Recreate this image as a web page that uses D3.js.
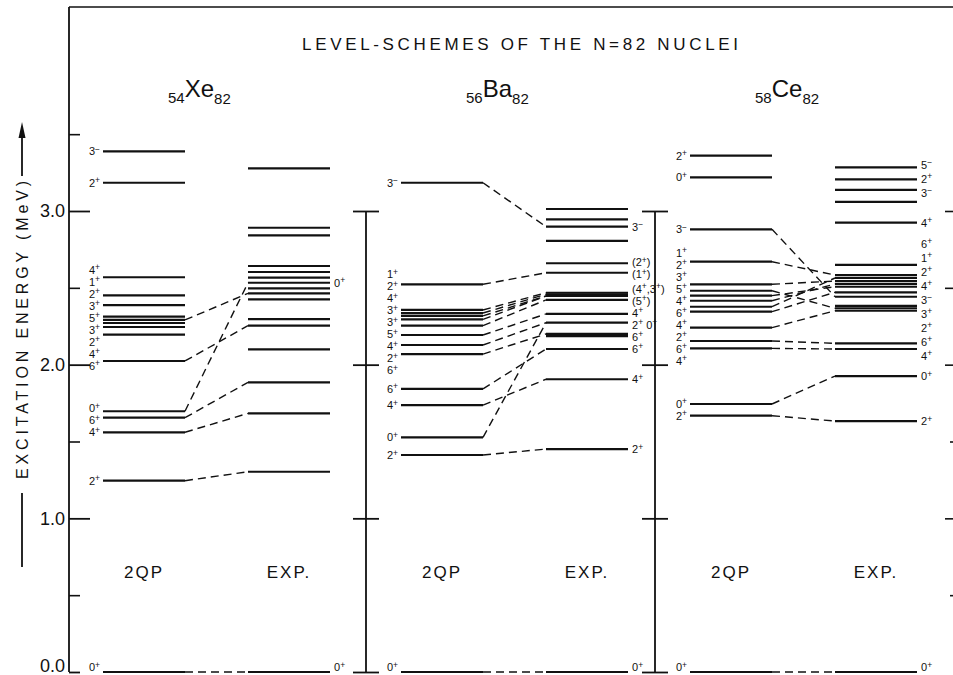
<!DOCTYPE html>
<html>
<head>
<meta charset="utf-8">
<script src="https://cdn.jsdelivr.net/npm/d3@7"></script>
<style>
  body { margin: 0; background: #fff; }
  svg { display: block; font-family: "Liberation Sans", "DejaVu Sans", sans-serif; }
</style>
</head>
<body>
<svg id="chart" width="953" height="675"></svg>
<script>
// nuclei shown, N = 82 isotones
const nuclei = ["Xe", "Ba", "Ce"];
const protons = [54, 56, 58];
const neutronNumber = 82;

// energy axis (MeV)
const majorTicks = [0, 1, 2, 3];
const minorTicks = [0.5, 1.5, 2.5, 3.5];

// 54Xe82 : two-quasiparticle calculation and experiment (MeV, label)
const xeQpE = [0, 1.245, 1.560, 1.655, 1.697, 2.024, 2.195, 2.245, 2.271, 2.291, 2.312, 2.388, 2.451, 2.569, 3.184, 3.388];
const xeQpJ = ["0+", "2+", "4+", "6+", "0+", "6+", "4+", "2+", "3+", "5+", "3+", "2+", "1+", "4+", "2+", "3-"];
const xeExpE = [0, 1.303, 1.683, 1.885, 2.100, 2.254, 2.297, 2.425, 2.464, 2.497, 2.533, 2.566, 2.603, 2.642, 2.842, 2.891, 3.278];
const xeExpJ = ["0+", "", "", "", "", "", "", "", "", "", "0+", "", "", "", "", "", ""];
const xeLinks = [[0, 0], [1.245, 1.303], [1.560, 1.683], [1.655, 1.885], [1.697, 2.533], [2.024, 2.254], [2.291, 2.464]];

// 56Ba82
const baQpE = [0, 1.412, 1.527, 1.737, 1.842, 2.069, 2.128, 2.193, 2.254, 2.295, 2.317, 2.336, 2.356, 2.523, 3.184];
const baQpJ = ["0+", "2+", "0+", "4+", "6+", "6+", "2+", "4+", "5+", "3+", "3+", "4+", "2+", "1+", "3-"];
const baExpE = [0, 1.451, 1.905, 2.102, 2.186, 2.200, 2.273, 2.330, 2.421, 2.447, 2.458, 2.468, 2.598, 2.660, 2.805, 2.898, 2.946, 3.013];
const baExpJ = ["0+", "2+", "4+", "6+", "", "6+", "2+ 0+", "4+", "(5+)", "", "", "(4+,3+)", "(1+)", "(2+)", "", "3-", "", ""];
const baLinks = [[0, 0], [1.412, 1.451], [1.527, 2.273], [1.737, 1.905], [1.842, 2.102], [2.069, 2.200], [2.128, 2.273],
  [2.193, 2.330], [2.254, 2.421], [2.295, 2.447], [2.317, 2.447], [2.336, 2.458], [2.356, 2.468], [2.523, 2.598], [3.184, 2.898]];

// 58Ce82
const ceQpE = [0, 1.668, 1.744, 2.106, 2.154, 2.241, 2.345, 2.377, 2.416, 2.449, 2.481, 2.523, 2.670, 2.881, 3.219, 3.360];
const ceQpJ = ["0+", "2+", "0+", "4+", "6+", "2+", "4+", "6+", "4+", "5+", "3+", "2+", "1+", "3-", "0+", "2+"];
const ceExpE = [0, 1.633, 1.926, 2.102, 2.139, 2.351, 2.367, 2.382, 2.442, 2.471, 2.507, 2.525, 2.544, 2.564, 2.583, 2.649, 2.924, 3.060, 3.137, 3.206, 3.284];
const ceExpJ = ["0+", "2+", "0+", "4+", "6+", "2+", "", "", "3+", "3-", "4+", "", "2+", "", "1+", "6+", "4+", "", "3-", "2+", "5-"];
const ceLinks = [[0, 0], [1.668, 1.633], [1.744, 1.926], [2.106, 2.102], [2.154, 2.139], [2.241, 2.351], [2.345, 2.471],
  [2.377, 2.564], [2.416, 2.525], [2.449, 2.507], [2.481, 2.367], [2.523, 2.544], [2.670, 2.583], [2.881, 2.442]];

const zip = (es, js) => es.map((e, i) => ({ e: e, j: js[i] }));
const panels = [
  { name: "Xe", z: protons[0], qp: zip(xeQpE, xeQpJ), exp: zip(xeExpE, xeExpJ), links: xeLinks },
  { name: "Ba", z: protons[1], qp: zip(baQpE, baQpJ), exp: zip(baExpE, baExpJ), links: baLinks },
  { name: "Ce", z: protons[2], qp: zip(ceQpE, ceQpJ), exp: zip(ceExpE, ceExpJ), links: ceLinks }
];

const ink = "#111";
const svg = d3.select("#chart");
svg.append("rect").attr("width", 953).attr("height", 675).attr("fill", "#fff");

const y = d3.scaleLinear().domain([0, 3]).range([672, 211]);
const panelX = d3.scaleOrdinal().domain(nuclei).range([103, 401, 690]);
const colW = 82;   // length of a level line
const expOff = 145; // offset of the EXP column inside a panel

// frame: top edge and left energy axis
svg.append("line").attr("x1", 69).attr("x2", 953).attr("y1", 7).attr("y2", 7)
  .attr("stroke", ink).attr("stroke-width", 1.6);
svg.append("line").attr("x1", 69).attr("x2", 69).attr("y1", 7).attr("y2", y(0))
  .attr("stroke", ink).attr("stroke-width", 1.8);

const leftAxis = svg.append("g").attr("transform", "translate(69,0)")
  .call(d3.axisLeft(y).tickValues(majorTicks).tickSize(-21).tickPadding(4).tickFormat(d3.format(".1f")));
leftAxis.select(".domain").remove();
leftAxis.selectAll("line").attr("stroke", ink).attr("stroke-width", 1.8);
leftAxis.selectAll("text").attr("fill", ink).style("font-size", "18px").style("font-family", "Liberation Sans, sans-serif");
const zeroTick = leftAxis.selectAll(".tick").filter(d => d === 0);
zeroTick.select("line").attr("x2", 11);
zeroTick.select("text").attr("dy", "-0.05em");

const leftMinor = svg.append("g").attr("transform", "translate(69,0)")
  .call(d3.axisLeft(y).tickValues(minorTicks).tickSize(-11).tickFormat(""));
leftMinor.select(".domain").remove();
leftMinor.selectAll("line").attr("stroke", ink).attr("stroke-width", 1.6);

// short ticks at the right edge
const rightMajor = svg.append("g").attr("transform", "translate(953,0)")
  .call(d3.axisLeft(y).tickValues([1, 2, 2.5, 3]).tickSize(8).tickFormat(""));
const rightMinor = svg.append("g").attr("transform", "translate(953,0)")
  .call(d3.axisLeft(y).tickValues([0.5, 1.5]).tickSize(3).tickFormat(""));
[rightMajor, rightMinor].forEach(g => {
  g.select(".domain").remove();
  g.selectAll("line").attr("stroke", ink).attr("stroke-width", 1.6);
});

// inner energy axes between the panels
nuclei.slice(1).forEach(n => {
  const ax = panelX(n) - 35;
  svg.append("line").attr("x1", ax).attr("x2", ax).attr("y1", y(3)).attr("y2", y(0))
    .attr("stroke", ink).attr("stroke-width", 1.8);
  [d3.axisLeft, d3.axisRight].forEach(mk => {
    const g = svg.append("g").attr("transform", `translate(${ax},0)`)
      .call(mk(y).tickValues(majorTicks).tickSize(13).tickFormat(""));
    g.select(".domain").remove();
    g.selectAll("line").attr("stroke", ink).attr("stroke-width", 1.8);
  });
});

// axis title with arrow
svg.append("text")
  .attr("transform", "translate(28,330) rotate(-90)")
  .attr("text-anchor", "middle")
  .attr("textLength", 298).attr("lengthAdjust", "spacing")
  .style("font-size", "16px").attr("fill", ink)
  .text("EXCITATION ENERGY (MeV)");
svg.append("line").attr("x1", 22).attr("x2", 22).attr("y1", 176).attr("y2", 132)
  .attr("stroke", ink).attr("stroke-width", 1.8);
svg.append("path").attr("d", "M22,122 L18.5,138 L25.5,138 Z").attr("fill", ink);
svg.append("line").attr("x1", 22).attr("x2", 22).attr("y1", 493).attr("y2", 567)
  .attr("stroke", ink).attr("stroke-width", 1.8);

// title
svg.append("text").attr("x", 302).attr("y", 50)
  .attr("textLength", 436).attr("lengthAdjust", "spacing")
  .style("font-size", "17px").attr("fill", ink)
  .text("LEVEL-SCHEMES OF THE N=" + neutronNumber + " NUCLEI");

// push labels apart so they do not overlap
function spread(ys, gap) {
  const out = ys.slice();
  for (let it = 0; it < 80; it++) {
    for (let i = 1; i < out.length; i++) {
      const d = out[i] - out[i - 1];
      if (d < gap) {
        const s = (gap - d) / 2;
        out[i - 1] -= s;
        out[i] += s;
      }
    }
  }
  return out;
}

// write "2+" as 2 with a raised sign
function spin(sel, label) {
  let raised = false;
  for (const ch of label) {
    if (ch === "+" || ch === "-") {
      sel.append("tspan").attr("dy", raised ? 0 : -3.5).style("font-size", "8.5px")
        .text(ch === "+" ? "+" : "\u2212");
      raised = true;
    } else {
      sel.append("tspan").attr("dy", raised ? 3.5 : 0).text(ch);
      raised = false;
    }
  }
}

function drawLabels(g, list, x, anchor, gap) {
  const items = list.filter(d => d.j).map(d => ({ j: d.j, y0: y(d.e) }))
    .sort((a, b) => a.y0 - b.y0);
  const ys = spread(items.map(d => d.y0), gap);
  items.forEach((d, i) => { d.y = Math.min(ys[i] + 4, 671); });
  g.selectAll(null).data(items).join("text")
    .attr("x", x).attr("y", d => d.y)
    .attr("text-anchor", anchor)
    .attr("fill", ink)
    .style("font-size", "11px")
    .each(function (d) { spin(d3.select(this), d.j); });
}

panels.forEach(p => {
  const x0 = panelX(p.name);
  const x1 = x0 + expOff;
  const g = svg.append("g");

  // nucleus symbol
  const sym = g.append("text").attr("x", x0 + 65).attr("y", 103).attr("fill", ink).style("font-size", "15px");
  sym.append("tspan").text(p.z);
  sym.append("tspan").attr("dy", -6).style("font-size", "24px").text(p.name);
  sym.append("tspan").attr("dy", 7).style("font-size", "15px").text(neutronNumber);

  // dashed correspondences
  g.selectAll(null).data(p.links).join("line")
    .attr("x1", x0 + colW).attr("y1", d => y(d[0]))
    .attr("x2", x1).attr("y2", d => y(d[1]))
    .attr("stroke", ink).attr("stroke-width", 1.4)
    .attr("stroke-dasharray", "8,5");

  // level lines
  g.selectAll(null).data(p.qp).join("line")
    .attr("x1", x0).attr("x2", x0 + colW)
    .attr("y1", d => y(d.e)).attr("y2", d => y(d.e))
    .attr("stroke", ink).attr("stroke-width", 2.2);
  g.selectAll(null).data(p.exp).join("line")
    .attr("x1", x1).attr("x2", x1 + colW)
    .attr("y1", d => y(d.e)).attr("y2", d => y(d.e))
    .attr("stroke", ink).attr("stroke-width", 2.2);

  drawLabels(g, p.qp, x0 - 3, "end", 12);
  drawLabels(g, p.exp, x1 + colW + 4, "start", p.name === "Ce" ? 14 : 12);

  // column captions
  g.append("text").attr("x", x0 + colW / 2).attr("y", 578).attr("text-anchor", "middle")
    .attr("fill", ink).style("font-size", "17px").style("letter-spacing", "2px").text("2QP");
  g.append("text").attr("x", x1 + colW / 2).attr("y", 578).attr("text-anchor", "middle")
    .attr("fill", ink).style("font-size", "17px").style("letter-spacing", "2px").text("EXP.");
});
</script>
</body>
</html>
